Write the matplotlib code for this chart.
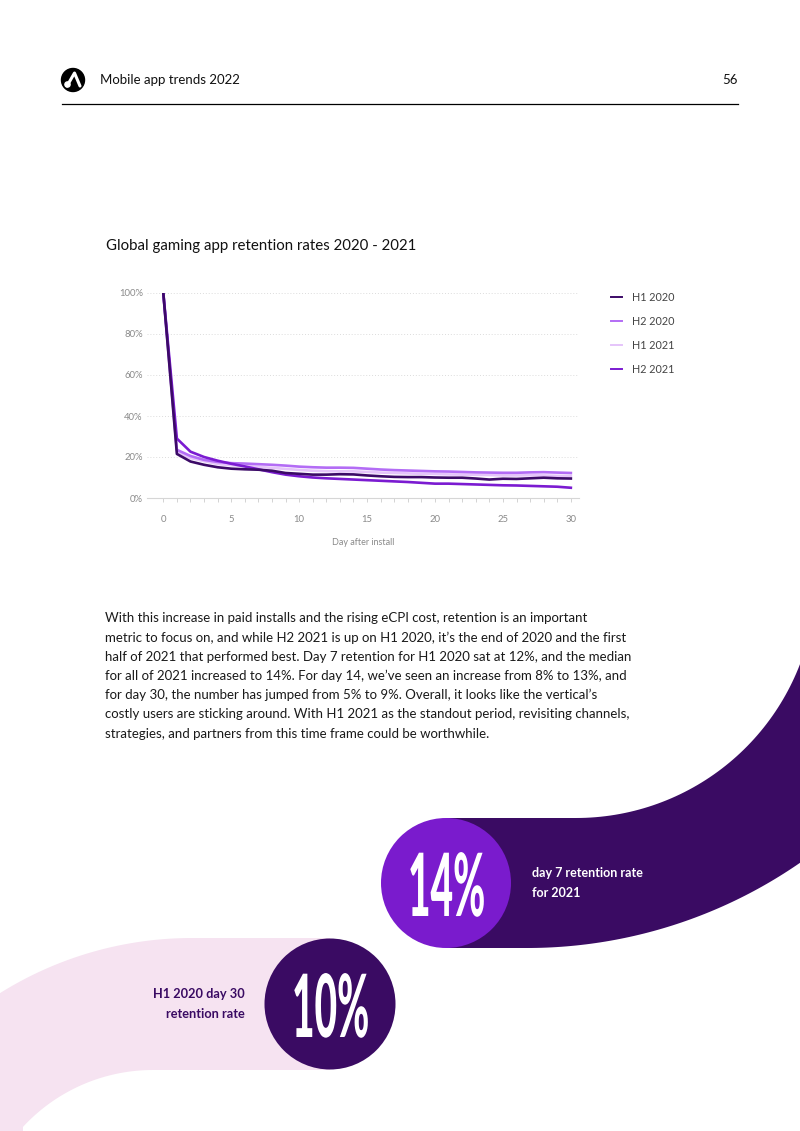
import numpy as np
import matplotlib
matplotlib.use('Agg')
import matplotlib.pyplot as plt
from matplotlib.patches import Circle, Polygon
from matplotlib.lines import Line2D
from matplotlib.patheffects import AbstractPathEffect
from matplotlib.transforms import Affine2D

plt.rcParams['font.family'] = ['Lato', 'DejaVu Sans']

# data
days = list(range(31))
h1_2020 = [100, 21.5, 17.8, 16.2, 15.0, 14.3, 14.0, 13.8, 13.3, 12.2, 11.8, 11.4, 11.4, 11.6, 11.5,
           11.0, 10.6, 10.3, 10.2, 10.2, 10.0, 9.9, 9.9, 9.5, 9.0, 9.4, 9.3, 9.6, 9.9, 9.6, 9.5]
h2_2020 = [100, 23.5, 20.5, 18.6, 17.6, 17.0, 16.8, 16.5, 16.2, 15.8, 15.3, 15.0, 14.8, 14.8, 14.7,
           14.3, 13.9, 13.6, 13.4, 13.2, 13.0, 12.9, 12.7, 12.5, 12.4, 12.3, 12.3, 12.5, 12.6, 12.4, 12.2]
h1_2021 = [100, 22.5, 19.5, 18.0, 16.6, 16.0, 15.6, 15.2, 14.7, 14.2, 13.7, 13.3, 13.1, 13.0, 13.0,
           12.7, 12.4, 12.2, 12.0, 11.8, 11.7, 11.5, 11.4, 11.3, 11.2, 11.0, 11.0, 11.1, 11.0, 10.8, 10.7]
h2_2021 = [100, 29.0, 22.6, 20.0, 18.2, 16.7, 15.4, 14.0, 12.6, 11.4, 10.6, 10.0, 9.6, 9.3, 9.0,
           8.7, 8.4, 8.1, 7.8, 7.4, 7.0, 7.0, 6.8, 6.6, 6.4, 6.2, 6.1, 5.9, 5.7, 5.5, 5.0]
series_names = ['H1 2020', 'H2 2020', 'H1 2021', 'H2 2021']
y_ticks = [0, 20, 40, 60, 80, 100]
x_ticks = [0, 5, 10, 15, 20, 25, 30]

colors = {'H1 2020': '#3c0a67', 'H2 2020': '#b36cf5', 'H1 2021': '#e5c4fa', 'H2 2021': '#7b1bd1'}
dark = '#3a0b63'


class Stretch(AbstractPathEffect):
    # big numbers use a tall condensed face: stretch glyphs about the baseline
    def __init__(self, sx, sy):
        super().__init__()
        self.sx = sx
        self.sy = sy

    def draw_path(self, renderer, gc, tpath, affine, rgbFace=None):
        renderer.draw_path(gc, tpath, Affine2D().scale(self.sx, self.sy) + affine, rgbFace)


W, H = 800, 1131
fig = plt.figure(figsize=(8, 11.31), dpi=100)

# page background layer in pixel coords
bg = fig.add_axes([0, 0, 1, 1])
bg.set_xlim(0, W)
bg.set_ylim(H, 0)
bg.axis('off')

# header
bg.add_patch(Circle((73, 80), 11.5, color='black'))
bg.plot([67, 74.5, 80], [86, 73, 86], color='white', lw=2.2, solid_capstyle='round')
bg.add_patch(Circle((67.5, 84.5), 2.6, color='white'))
bg.text(100, 80, 'Mobile app trends 2022', fontsize=9.5, color='#111', va='center')
bg.text(738, 80, '56', fontsize=9.5, color='#111', va='center', ha='right')
bg.plot([62, 738], [104, 104], color='black', lw=0.9)

# title
bg.text(106, 246, 'Global gaming app retention rates 2020 - 2021', fontsize=10.8, color='#111', va='center')

# body text
body = [
    "With this increase in paid installs and the rising eCPI cost, retention is an important",
    "metric to focus on, and while H2 2021 is up on H1 2020, it\u2019s the end of 2020 and the first",
    "half of 2021 that performed best. Day 7 retention for H1 2020 sat at 12%, and the median",
    "for all of 2021 increased to 14%. For day 14, we\u2019ve seen an increase from 8% to 13%, and",
    "for day 30, the number has jumped from 5% to 9%. Overall, it looks like the vertical\u2019s",
    "costly users are sticking around. With H1 2021 as the standout period, revisiting channels,",
    "strategies, and partners from this time frame could be worthwhile.",
]
for i, line in enumerate(body):
    bg.text(105, 618 + i * 19.3, line, fontsize=9.5, color='#1a1a1a', va='center')

# dark band on the right
t = np.linspace(np.arccos(224 / 240), np.pi / 2, 60)
top_arc = np.column_stack([576 + 240 * np.cos(t), 578 + 240 * np.sin(t)])
t2 = np.linspace(np.pi / 2, np.arccos(273 / 480), 60)
bot_arc = np.column_stack([527 + 480 * np.cos(t2), 468 + 480 * np.sin(t2)])
top_edge = top_arc[np.argsort(top_arc[:, 0])]
bot_edge = bot_arc[np.argsort(-bot_arc[:, 0])]
poly = np.vstack([[[446, 818]], top_edge, [[800, 664], [800, 863]], bot_edge, [[446, 948]]])
bg.add_patch(Polygon(poly, closed=True, color=dark, lw=0))
bg.add_patch(Circle((446, 883), 65, color='#7a1bcd', lw=0))
bg.text(408, 916, '14%', fontsize=40, color='white', fontweight='black', ha='left', va='baseline',
        path_effects=[Stretch(0.70, 1.57)])
bg.text(532, 873, 'day 7 retention rate', fontsize=9, color='white', fontweight='bold', va='center')
bg.text(532, 893, 'for 2021', fontsize=9, color='white', fontweight='bold', va='center')

# pink band lower left
pink = '#f6e3f1'
a = np.linspace(-np.pi / 2, -np.pi / 2 - np.arcsin(192 / 362), 60)
ptop = np.column_stack([192 + 362 * np.cos(a), 1300 + 362 * np.sin(a)])
b = np.linspace(-np.pi / 2 - np.arcsin(130 / 177), -np.pi / 2, 60)
pbot = np.column_stack([153 + 177 * np.cos(b), 1247 + 177 * np.sin(b)])
ppoly = np.vstack([[[330, 938]], ptop, [[0, 1131], [23, 1131]], pbot, [[330, 1070]]])
bg.add_patch(Polygon(ppoly, closed=True, color=pink, lw=0))
bg.add_patch(Circle((330, 1004), 65.5, color=dark, lw=0))
bg.text(292, 1037, '10%', fontsize=40, color='white', fontweight='black', ha='left', va='baseline',
        path_effects=[Stretch(0.70, 1.57)])
bg.text(245, 994, 'H1 2020 day 30', fontsize=9.2, color=dark, fontweight='bold', va='center', ha='right')
bg.text(245, 1014, 'retention rate', fontsize=9.2, color=dark, fontweight='bold', va='center', ha='right')

# chart
ax = fig.add_axes([147 / W, 1 - 498 / H, (579 - 147) / W, (498 - 293) / H])
ax.patch.set_alpha(0)
series = {'H1 2020': h1_2020, 'H2 2020': h2_2020, 'H1 2021': h1_2021, 'H2 2021': h2_2021}
order = ['H1 2021', 'H2 2020', 'H2 2021', 'H1 2020']
for name in order:
    ax.plot(days, series[name], color=colors[name], lw=1.9, solid_joinstyle='round', zorder=3)
ax.set_xlim(-1.2, 30.6)
ax.set_ylim(0, 100)
ax.set_xticks(x_ticks)
ax.set_xticks(days, minor=True)
ax.set_yticks(y_ticks)
ax.set_yticklabels([f'{v}%' for v in y_ticks])
for v in y_ticks[1:]:
    ax.axhline(v, color='#dcdcdc', lw=0.7, ls=(0, (1, 2)), zorder=1)
for s in ['top', 'right', 'left']:
    ax.spines[s].set_visible(False)
ax.spines['bottom'].set_color('#d6d6d6')
ax.spines['bottom'].set_linewidth(0.8)
ax.tick_params(axis='x', which='both', length=3, color='#cccccc', width=0.6, labelsize=6.8,
               labelcolor='#8a8a8a', pad=9)
ax.tick_params(axis='y', length=0, labelsize=6.8, labelcolor='#8a8a8a', pad=3)
ax.set_xlabel('Day after install', fontsize=6.5, color='#8a8a8a', labelpad=10)

handles = [Line2D([], [], color=colors[n], lw=1.4) for n in series_names]
fig.legend(handles, series_names, loc='upper left', bbox_to_anchor=(611 / W, 1 - 292 / H),
           frameon=False, fontsize=7.8, labelcolor='#444444', handlelength=1.0, handletextpad=0.9,
           labelspacing=1.2, borderpad=0, borderaxespad=0)

fig.savefig('out.png', dpi=100)
